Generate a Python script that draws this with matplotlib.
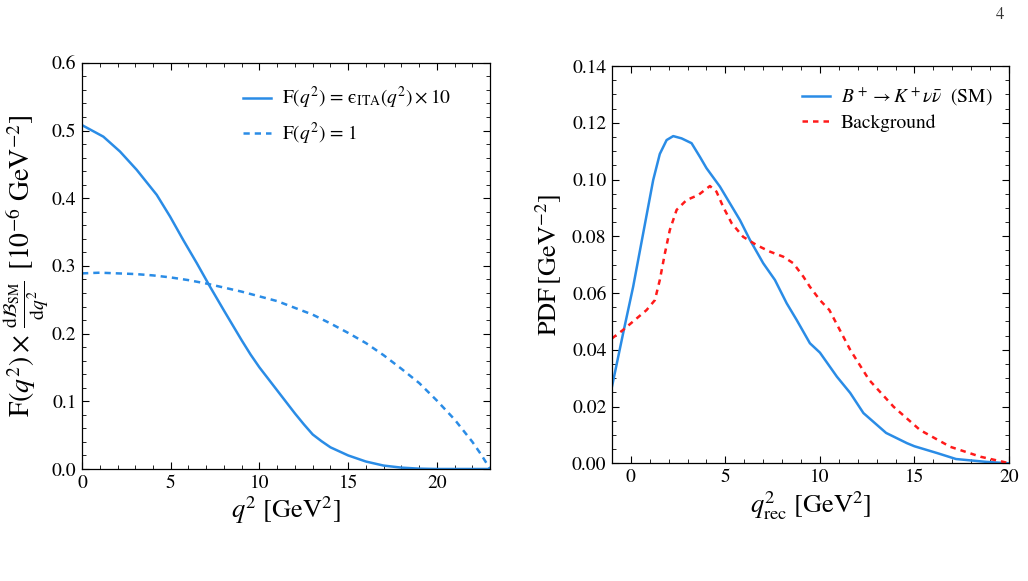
import matplotlib
matplotlib.use("Agg")
import matplotlib.pyplot as plt
import numpy as np
from matplotlib.ticker import MultipleLocator

plt.rcParams['font.family'] = ['STIXGeneral', 'DejaVu Serif']
plt.rcParams['mathtext.fontset'] = 'stix'

# Left panel data
q2_eff = [0, 1.2, 2.14, 3.08, 4.21, 4.96, 5.71, 6.47, 7.22, 8, 8.5, 9, 9.5, 10, 10.5, 11,
          11.5, 12, 12.5, 13, 13.5, 14, 15, 16, 17, 18, 19, 20, 21, 22, 23]
eff_weighted = [0.508, 0.491, 0.469, 0.442, 0.405, 0.373, 0.338, 0.304, 0.269, 0.234, 0.212,
                0.190, 0.169, 0.150, 0.133, 0.116, 0.099, 0.082, 0.066, 0.051, 0.041, 0.032,
                0.020, 0.011, 0.005, 0.002, 0.0005, 0.0, 0.0, 0.0, 0.0]
q2_sm = [0, 1, 2, 3, 4, 5, 6, 7, 8, 9, 10, 11, 12, 13, 14, 15, 16, 17, 18, 19, 20, 21, 22,
         22.5, 23]
dBdq2 = [0.289, 0.290, 0.289, 0.288, 0.286, 0.283, 0.279, 0.274, 0.268, 0.262, 0.255,
         0.248, 0.238, 0.228, 0.215, 0.201, 0.186, 0.168, 0.148, 0.127, 0.101, 0.073, 0.040,
         0.021, 0.0]

# Right panel data
q2_sig = [-1.0, -0.41, 0.12, 0.65, 1.18, 1.53, 1.89, 2.24, 2.68, 3.21, 3.65, 4.0, 4.71, 5.24,
          5.77, 6.3, 7.0, 7.62, 8.24, 8.77, 9.47, 10.0, 10.9, 11.6, 12.3, 13.5, 14.6, 15.0,
          16.2, 17.2, 18.8, 20.0]
pdf_sig = [0.027, 0.0458, 0.0622, 0.081, 0.0998, 0.109, 0.1139, 0.1153, 0.1145, 0.1128, 0.108,
           0.104, 0.0975, 0.0916, 0.0857, 0.0787, 0.0705, 0.0646, 0.0564, 0.0505, 0.0423, 0.039,
           0.0305, 0.0248, 0.0177, 0.0107, 0.0071, 0.006, 0.0036, 0.0015, 0.0005, 0.0]
q2_bkg = [-1.0, -0.41, 0.21, 0.83, 1.27, 1.53, 1.8, 2.06, 2.42, 2.95, 3.56, 4.18, 4.53, 4.88,
          5.33, 5.94, 6.65, 7.35, 8.06, 8.59, 9.12, 9.47, 10.0, 10.5, 11.6, 12.6, 13.9, 15.3,
          16.9, 18.5, 19.7, 20.0]
pdf_bkg = [0.044, 0.047, 0.0505, 0.054, 0.0575, 0.0646, 0.074, 0.0822, 0.0893, 0.0928, 0.0945,
           0.0977, 0.0957, 0.0904, 0.0846, 0.0798, 0.0769, 0.0746, 0.0728, 0.0705, 0.0658,
           0.0622, 0.0575, 0.054, 0.040, 0.0294, 0.0199, 0.0117, 0.0058, 0.0023, 0.0005, 0.0]

blue = '#2a8ce6'
red = '#ff1a1a'

fig = plt.figure(figsize=(10.28, 5.81), dpi=100)
ax1 = fig.add_axes([0.0798, 0.1928, 0.397, 0.699])
ax2 = fig.add_axes([0.5953, 0.2026, 0.3862, 0.6838])

ax1.plot(q2_eff, eff_weighted, color=blue, lw=1.8,
         label='F$(q^2)$ = \u03f5$_{\\rm ITA}(q^2)\\times 10$')
ax1.plot(q2_sm, dBdq2, color=blue, lw=1.8, ls=(0, (2.5, 2)), label=r'F$(q^2)$ = 1')
ax1.set_xlim(0, 23)
ax1.set_ylim(0, 0.6)
ax1.xaxis.set_major_locator(MultipleLocator(5))
ax1.xaxis.set_minor_locator(MultipleLocator(1))
ax1.yaxis.set_major_locator(MultipleLocator(0.1))
ax1.yaxis.set_minor_locator(MultipleLocator(0.02))
ax1.set_yticks(ax1.get_yticks())
ax1.set_yticklabels([f'{v:.1f}' for v in ax1.get_yticks()])
ax1.set_ylim(0, 0.6)
ax1.set_xlabel(r'$q^2$ [GeV$^2$]', fontsize=19, labelpad=2)
ax1.set_ylabel(r'F$(q^2)\times\,\frac{\mathrm{d}\mathcal{B}_{\rm SM}}{\mathrm{d}q^2}\,$ [10$^{-6}$ GeV$^{-2}$]',
               fontsize=20)
ax1.yaxis.set_label_coords(-0.075, 0.5)
ax1.legend(loc='upper left', frameon=False, fontsize=14, handlelength=1.45,
           handletextpad=0.55, borderpad=0, borderaxespad=0,
           bbox_to_anchor=(0.395, 0.945), labelspacing=0.5)

ax2.plot(q2_sig, pdf_sig, color=blue, lw=1.8, label=r'$B^+\to K^+\nu\bar{\nu}$  (SM)')
ax2.plot(q2_bkg, pdf_bkg, color=red, lw=1.8, ls=(0, (2.2, 2)), label='Background')
ax2.set_xlim(-1, 20)
ax2.set_ylim(0, 0.14)
ax2.xaxis.set_major_locator(MultipleLocator(5))
ax2.xaxis.set_minor_locator(MultipleLocator(1))
ax2.yaxis.set_major_locator(MultipleLocator(0.02))
ax2.yaxis.set_minor_locator(MultipleLocator(0.005))
ax2.set_yticks(ax2.get_yticks())
ax2.set_yticklabels([f'{v:.2f}' for v in ax2.get_yticks()])
ax2.set_ylim(0, 0.14)
ax2.set_xlabel(r'$q^2_{\rm rec}$ [GeV$^2$]', fontsize=19, labelpad=2)
ax2.set_ylabel(r'PDF$\,\left[\mathrm{GeV}^{-2}\right]$', fontsize=19, labelpad=6)
ax2.legend(loc='upper left', frameon=False, fontsize=14, handlelength=1.45,
           handletextpad=0.55, borderpad=0, borderaxespad=0,
           bbox_to_anchor=(0.4786, 0.95), labelspacing=0.3)

for ax in (ax1, ax2):
    ax.tick_params(which='both', direction='in', top=True, right=True, labelsize=14, pad=4)
    ax.tick_params(which='major', length=5, width=0.8)
    ax.tick_params(which='minor', length=3, width=0.6)
    for s in ax.spines.values():
        s.set_linewidth(0.9)

fig.text(0.977, 0.988, '4', fontsize=12, ha='right', va='top', color='#333333')

fig.savefig('out.png', dpi=100)
